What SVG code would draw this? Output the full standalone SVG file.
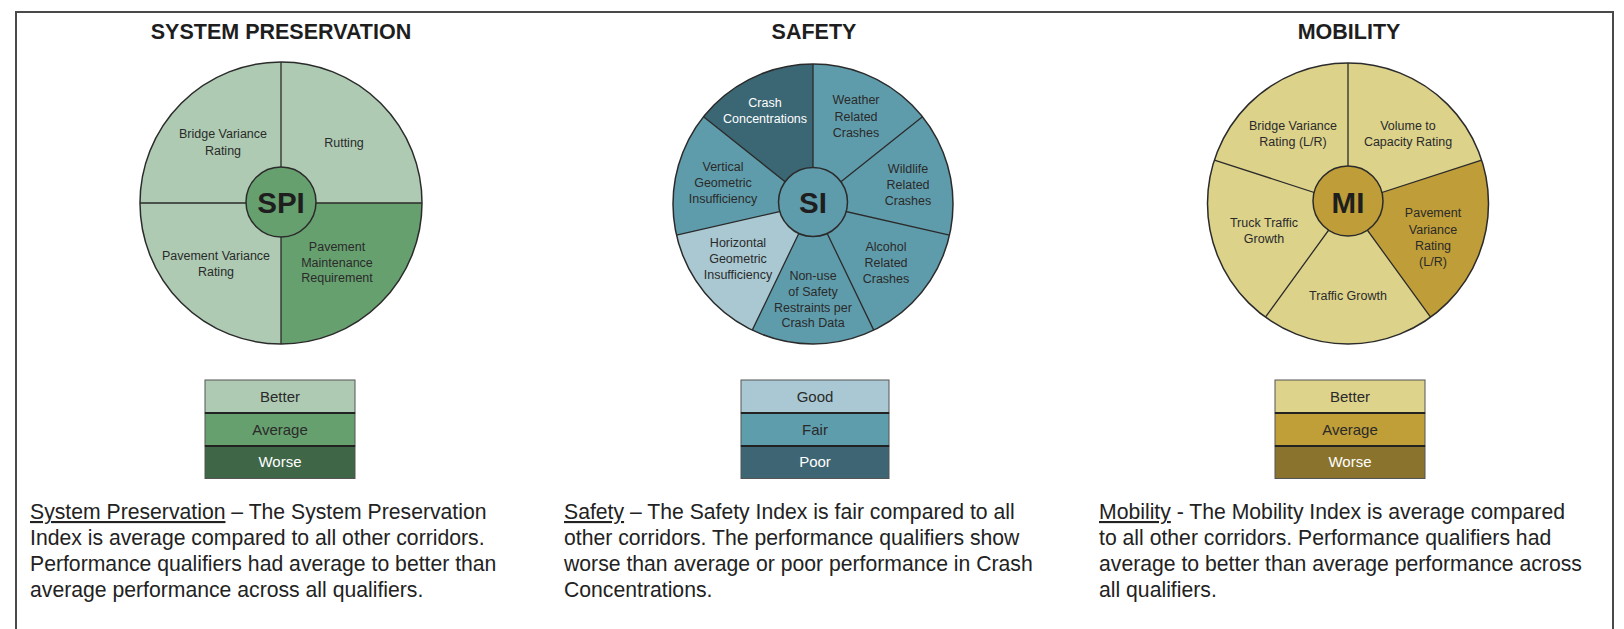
<svg xmlns="http://www.w3.org/2000/svg" width="1624" height="629" viewBox="0 0 1624 629">
<style>
.title{font-family:"Liberation Sans",Arial,sans-serif;font-weight:bold;font-size:21.5px;fill:#1e1e1e;text-anchor:middle}
.lbl{font-family:"Liberation Sans",Arial,sans-serif;font-size:12.5px;fill:#2a2a2a;text-anchor:middle}
.lblw{font-family:"Liberation Sans",Arial,sans-serif;font-size:12.5px;fill:#ffffff;text-anchor:middle}
.idx{font-family:"Liberation Sans",Arial,sans-serif;font-weight:bold;font-size:29.5px;fill:#1e1e1e;text-anchor:middle}
.leg{font-family:"Liberation Sans",Arial,sans-serif;font-size:15px;fill:#2a2a2a;text-anchor:middle}
.legw{font-family:"Liberation Sans",Arial,sans-serif;font-size:15px;fill:#ffffff;text-anchor:middle}
.desc{font-family:"Liberation Sans",Arial,sans-serif;font-size:21.2px;fill:#222}
.edge{stroke:#2b2b2b;stroke-width:1.3;fill:none}
.ring{stroke:#2b2b2b;stroke-width:1.5}
.cell{stroke:#555;stroke-width:1}
.div{stroke:#222;stroke-width:2}
</style>
<rect x="16" y="12" width="1597" height="640" fill="#ffffff" stroke="#4a4a4a" stroke-width="2"/>

<g id="spi">
<text class="title" x="281" y="39">SYSTEM PRESERVATION</text>
<circle cx="281" cy="203" r="141" fill="#aecab3"/>
<path d="M281,203 L422,203 A141,141 0 0 1 281,344 Z" fill="#67a06f"/>
<path class="edge" d="M281,62 L281,344 M140,203 L422,203"/>
<circle class="ring" cx="281" cy="203" r="141" fill="none"/>
<circle class="ring" cx="281" cy="202" r="35" fill="#67a06f"/>
<text class="idx" x="281" y="212.5">SPI</text>
<text class="lbl" x="223" y="138">Bridge Variance</text>
<text class="lbl" x="223" y="155">Rating</text>
<text class="lbl" x="344" y="147">Rutting</text>
<text class="lbl" x="216" y="260">Pavement Variance</text>
<text class="lbl" x="216" y="276">Rating</text>
<text class="lbl" x="337" y="251">Pavement</text>
<text class="lbl" x="337" y="267">Maintenance</text>
<text class="lbl" x="337" y="282">Requirement</text>
</g>

<g id="spi-legend">
<rect class="cell" x="205" y="380" width="150" height="33" fill="#aecab3"/>
<rect class="cell" x="205" y="413" width="150" height="33" fill="#67a06f"/>
<rect class="cell" x="205" y="446" width="150" height="32.5" fill="#3e6647"/>
<path class="div" d="M205,413 L355,413 M205,446 L355,446"/>
<text class="leg" x="280" y="402">Better</text>
<text class="leg" x="280" y="435">Average</text>
<text class="legw" x="280" y="467">Worse</text>
</g>

<g id="si">
<text class="title" x="814" y="39">SAFETY</text>
<circle cx="813" cy="204" r="140" fill="#5f9cab"/>
<path d="M813,204 L752.26,330.14 A140,140 0 0 1 676.51,235.15 Z" fill="#a9c8d2"/>
<path d="M813,204 L703.54,116.71 A140,140 0 0 1 813,64 Z" fill="#3b6673"/>
<path class="edge" d="M813,204 L813,64 M813,204 L922.46,116.71 M813,204 L949.49,235.15 M813,204 L873.74,330.14 M813,204 L752.26,330.14 M813,204 L676.51,235.15 M813,204 L703.54,116.71"/>
<circle class="ring" cx="813" cy="204" r="140" fill="none"/>
<circle class="ring" cx="813" cy="202" r="34.5" fill="#5f9cab"/>
<text class="idx" x="813" y="212.5">SI</text>
<text class="lblw" x="765" y="107">Crash</text>
<text class="lblw" x="765" y="123">Concentrations</text>
<text class="lbl" x="856" y="104">Weather</text>
<text class="lbl" x="856" y="121">Related</text>
<text class="lbl" x="856" y="137">Crashes</text>
<text class="lbl" x="908" y="173">Wildlife</text>
<text class="lbl" x="908" y="189">Related</text>
<text class="lbl" x="908" y="205">Crashes</text>
<text class="lbl" x="886" y="251">Alcohol</text>
<text class="lbl" x="886" y="267">Related</text>
<text class="lbl" x="886" y="283">Crashes</text>
<text class="lbl" x="813" y="280">Non-use</text>
<text class="lbl" x="813" y="296">of Safety</text>
<text class="lbl" x="813" y="312">Restraints per</text>
<text class="lbl" x="813" y="327">Crash Data</text>
<text class="lbl" x="738" y="247">Horizontal</text>
<text class="lbl" x="738" y="263">Geometric</text>
<text class="lbl" x="738" y="279">Insufficiency</text>
<text class="lbl" x="723" y="171">Vertical</text>
<text class="lbl" x="723" y="187">Geometric</text>
<text class="lbl" x="723" y="203">Insufficiency</text>
</g>

<g id="si-legend">
<rect class="cell" x="741" y="380" width="148" height="33" fill="#a9c8d3"/>
<rect class="cell" x="741" y="413" width="148" height="33" fill="#5e9dac"/>
<rect class="cell" x="741" y="446" width="148" height="32.5" fill="#3d6573"/>
<path class="div" d="M741,413 L889,413 M741,446 L889,446"/>
<text class="leg" x="815" y="402">Good</text>
<text class="leg" x="815" y="435">Fair</text>
<text class="legw" x="815" y="467">Poor</text>
</g>

<g id="mi">
<text class="title" x="1349" y="39">MOBILITY</text>
<circle cx="1348" cy="203.5" r="140.5" fill="#ddd28a"/>
<path d="M1348,203.5 L1481.62,160.08 A140.5,140.5 0 0 1 1430.58,317.17 Z" fill="#bf9d38"/>
<path class="edge" d="M1348,203.5 L1348,63 M1348,203.5 L1481.62,160.08 M1348,203.5 L1430.58,317.17 M1348,203.5 L1265.42,317.17 M1348,203.5 L1214.38,160.08"/>
<circle class="ring" cx="1348" cy="203.5" r="140.5" fill="none"/>
<circle class="ring" cx="1348" cy="201" r="35" fill="#bf9d38"/>
<text class="idx" x="1348" y="212.5">MI</text>
<text class="lbl" x="1408" y="130">Volume to</text>
<text class="lbl" x="1408" y="146">Capacity Rating</text>
<text class="lbl" x="1293" y="130">Bridge Variance</text>
<text class="lbl" x="1293" y="146">Rating (L/R)</text>
<text class="lbl" x="1433" y="217">Pavement</text>
<text class="lbl" x="1433" y="234">Variance</text>
<text class="lbl" x="1433" y="250">Rating</text>
<text class="lbl" x="1433" y="266">(L/R)</text>
<text class="lbl" x="1348" y="300">Traffic Growth</text>
<text class="lbl" x="1264" y="227">Truck Traffic</text>
<text class="lbl" x="1264" y="243">Growth</text>
</g>

<g id="mi-legend">
<rect class="cell" x="1275" y="380" width="150" height="33" fill="#ddd38b"/>
<rect class="cell" x="1275" y="413" width="150" height="33" fill="#c09e38"/>
<rect class="cell" x="1275" y="446" width="150" height="32.5" fill="#8a742d"/>
<path class="div" d="M1275,413 L1425,413 M1275,446 L1425,446"/>
<text class="leg" x="1350" y="402">Better</text>
<text class="leg" x="1350" y="435">Average</text>
<text class="legw" x="1350" y="467">Worse</text>
</g>

<g id="descriptions">
<text class="desc" x="30" y="519"><tspan text-decoration="underline">System Preservation</tspan> – The System Preservation</text>
<text class="desc" x="30" y="545">Index is average compared to all other corridors.</text>
<text class="desc" x="30" y="571">Performance qualifiers had average to better than</text>
<text class="desc" x="30" y="597">average performance across all qualifiers.</text>
<text class="desc" x="564" y="519"><tspan text-decoration="underline">Safety</tspan> – The Safety Index is fair compared to all</text>
<text class="desc" x="564" y="545">other corridors. The performance qualifiers show</text>
<text class="desc" x="564" y="571">worse than average or poor performance in Crash</text>
<text class="desc" x="564" y="597">Concentrations.</text>
<text class="desc" x="1099" y="519"><tspan text-decoration="underline">Mobility</tspan> - The Mobility Index is average compared</text>
<text class="desc" x="1099" y="545">to all other corridors. Performance qualifiers had</text>
<text class="desc" x="1099" y="571">average to better than average performance across</text>
<text class="desc" x="1099" y="597">all qualifiers.</text>
</g>
</svg>
